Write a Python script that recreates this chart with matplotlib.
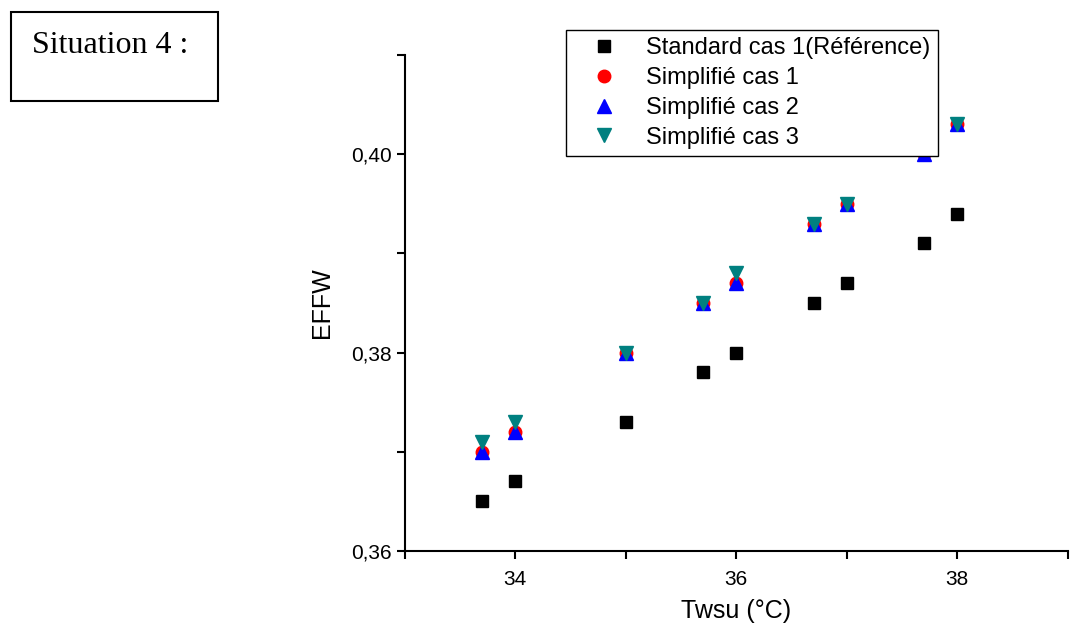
import matplotlib
matplotlib.use('Agg')
import matplotlib.pyplot as plt
from matplotlib.ticker import MultipleLocator, FuncFormatter

# data
twsu = [33.7, 34.0, 35.0, 35.7, 36.0, 36.7, 37.0, 37.7, 38.0]
standard_cas1 = [0.365, 0.367, 0.373, 0.378, 0.380, 0.385, 0.387, 0.391, 0.394]
simplifie_cas1 = [0.370, 0.372, 0.380, 0.385, 0.387, 0.393, 0.395, 0.400, 0.403]
simplifie_cas2 = [0.370, 0.372, 0.380, 0.385, 0.387, 0.393, 0.395, 0.400, 0.403]
simplifie_cas3 = [0.371, 0.373, 0.380, 0.385, 0.388, 0.393, 0.395, 0.401, 0.403]

plt.rcParams['font.family'] = ['Liberation Sans', 'DejaVu Sans']

fig = plt.figure(figsize=(10.71, 6.26), dpi=100)
ax = fig.add_axes([0.378, 0.12, 0.619, 0.792])

ax.plot(twsu, standard_cas1, 's', color='black', markersize=8.5, linestyle='none',
        label='Standard cas 1(Référence)')
ax.plot(twsu, simplifie_cas1, 'o', color='red', markersize=9, linestyle='none',
        label='Simplifié cas 1')
ax.plot(twsu, simplifie_cas2, '^', color='blue', markersize=10, linestyle='none',
        label='Simplifié cas 2')
ax.plot(twsu, simplifie_cas3, 'v', color='#008080', markersize=10, linestyle='none',
        label='Simplifié cas 3')

ax.set_xlim(33, 39)
ax.set_ylim(0.36, 0.41)
ax.xaxis.set_major_locator(MultipleLocator(2))
ax.xaxis.set_minor_locator(MultipleLocator(1))
ax.yaxis.set_major_locator(MultipleLocator(0.02))
ax.yaxis.set_minor_locator(MultipleLocator(0.01))
ax.yaxis.set_major_formatter(FuncFormatter(lambda v, p: ('%.2f' % v).replace('.', ',')))

for side in ['top', 'right']:
    ax.spines[side].set_visible(False)
for side in ['left', 'bottom']:
    ax.spines[side].set_linewidth(1.5)
ax.tick_params(which='major', direction='out', length=6, width=1.5, labelsize=15)
ax.tick_params(axis='x', which='major', pad=8)
ax.tick_params(which='minor', direction='out', length=6, width=1.5)

ax.set_xlabel('Twsu (°C)', fontsize=18, labelpad=7)
ax.set_ylabel('EFFW', fontsize=18, labelpad=12)

leg = ax.legend(loc='upper left', bbox_to_anchor=(0.243, 1.05), fontsize=17,
                frameon=True, fancybox=False, edgecolor='black', framealpha=1,
                handletextpad=0.5, borderpad=0.3, labelspacing=0.33,
                handlelength=2.6, borderaxespad=0)
leg.get_frame().set_linewidth(1.0)
leg.set_zorder(10)

# "Situation 4 :" box in the top left corner
fig.patches.append(plt.Rectangle((11 / 1071, 1 - 101 / 626), 207 / 1071, 89 / 626,
                                 transform=fig.transFigure, fill=False,
                                 edgecolor='black', linewidth=1.5))
fig.text(32 / 1071, 1 - 53 / 626, 'Situation 4 :', fontsize=23,
         family='Liberation Serif', va='baseline', ha='left')

fig.savefig('out.png', dpi=100)
